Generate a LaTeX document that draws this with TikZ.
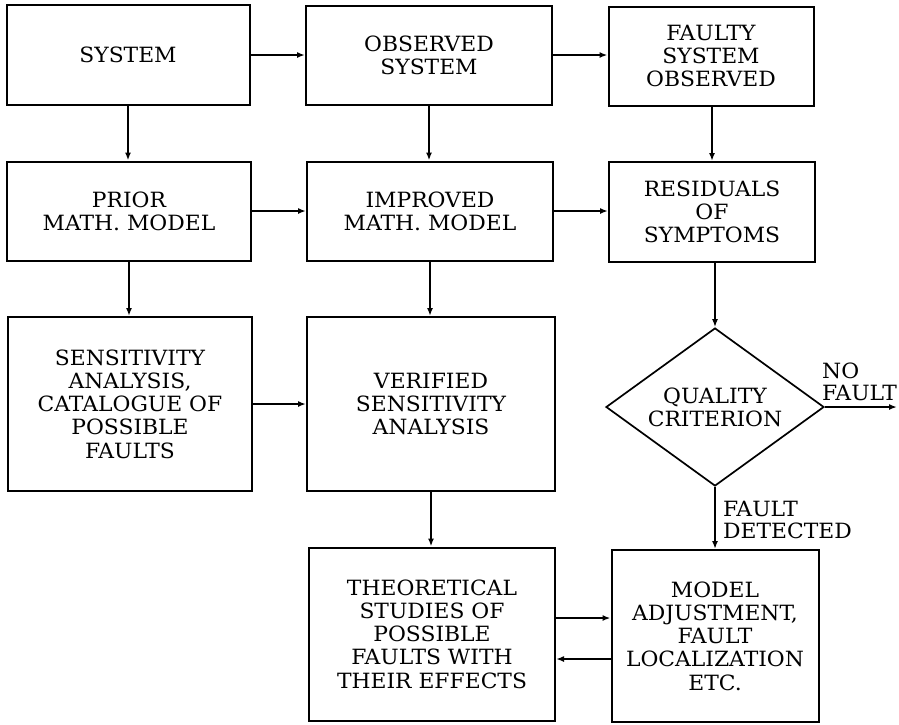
\documentclass[tikz,border=0pt]{standalone}
\usepackage{fontspec}
\setmainfont{DejaVu Serif}[FakeStretch=1.04]
\usetikzlibrary{shapes.geometric,arrows.meta}
\begin{document}
\begin{tikzpicture}[x=1pt,y=-1pt,
  box/.style={draw,line width=2pt,align=center,inner sep=0pt,
    font=\fontsize{21}{23.3}\selectfont},
  dbox/.style={draw,diamond,line width=1.7pt,align=center,inner sep=0pt,
    font=\fontsize{21}{23.3}\selectfont},
  lbl/.style={inner sep=0pt,align=left,font=\fontsize{21}{22}\selectfont},
  arr/.style={line width=2pt,-{Latex[length=8pt,width=6pt]}}]
\useasboundingbox (0,0) rectangle (899,724);
\node[box,minimum width=243pt,minimum height=100pt] (sys) at (128,55) {SYSTEM};
\node[box,minimum width=246pt,minimum height=99pt] (obs) at (429,55) {OBSERVED\\SYSTEM};
\node[box,minimum width=205pt,minimum height=99pt] (fso) at (711,56) {FAULTY\\SYSTEM\\OBSERVED};
\node[box,minimum width=244pt,minimum height=99pt] (pri) at (129,211) {PRIOR\\MATH. MODEL};
\node[box,minimum width=246pt,minimum height=99pt] (imp) at (430,211) {IMPROVED\\MATH. MODEL};
\node[box,minimum width=206pt,minimum height=100pt] (res) at (712,212) {RESIDUALS\\OF\\SYMPTOMS};
\node[box,minimum width=244pt,minimum height=174pt] (sen) at (130,404) {SENSITIVITY\\ANALYSIS,\\CATALOGUE OF\\POSSIBLE\\FAULTS};
\node[box,minimum width=248pt,minimum height=174pt] (ver) at (431,404) {VERIFIED\\SENSITIVITY\\ANALYSIS};
\node[dbox,minimum width=218pt,minimum height=158pt,aspect=1.38] (dia) at (715,407) {QUALITY\\CRITERION};
\node[box,minimum width=246pt,minimum height=173pt] (the) at (432,634) {THEORETICAL\\STUDIES OF\\POSSIBLE\\FAULTS WITH\\THEIR EFFECTS};
\node[box,minimum width=207pt,minimum height=172pt] (mod) at (715,636) {MODEL\\ADJUSTMENT,\\FAULT\\LOCALIZATION\\ETC.};
\node[lbl,anchor=south west] (nfl) at (822,401) {NO\\FAULT};
\node[lbl,anchor=north west] (fdl) at (723,501) {FAULT\\DETECTED};
\coordinate (nf) at (897,407);
\coordinate (ya) at (0,618);
\coordinate (yb) at (0,659);
% horizontal
\draw[arr] (sys.east) -- (obs.west |- sys.east);
\draw[arr] (obs.east) -- (fso.west |- obs.east);
\draw[arr] (pri.east) -- (imp.west |- pri.east);
\draw[arr] (imp.east) -- (res.west |- imp.east);
\draw[arr] (sen.east) -- (ver.west |- sen.east);
\draw[arr] (dia.east) -- (nf);
\draw[arr] (the.east |- ya) -- (mod.west |- ya);
\draw[arr] (mod.west |- yb) -- (the.east |- yb);
% vertical
\draw[arr] (sys.south) -- (sys.south |- pri.north);
\draw[arr] (obs.south) -- (obs.south |- imp.north);
\draw[arr] (res.north |- fso.south) -- (res.north);
\draw[arr] (pri.south) -- (pri.south |- sen.north);
\draw[arr] (imp.south) -- (imp.south |- ver.north);
\draw[arr] (dia.north |- res.south) -- (dia.north);
\draw[arr] (ver.south) -- (ver.south |- the.north);
\draw[arr] (dia.south) -- (dia.south |- mod.north);
\end{tikzpicture}
\end{document}
